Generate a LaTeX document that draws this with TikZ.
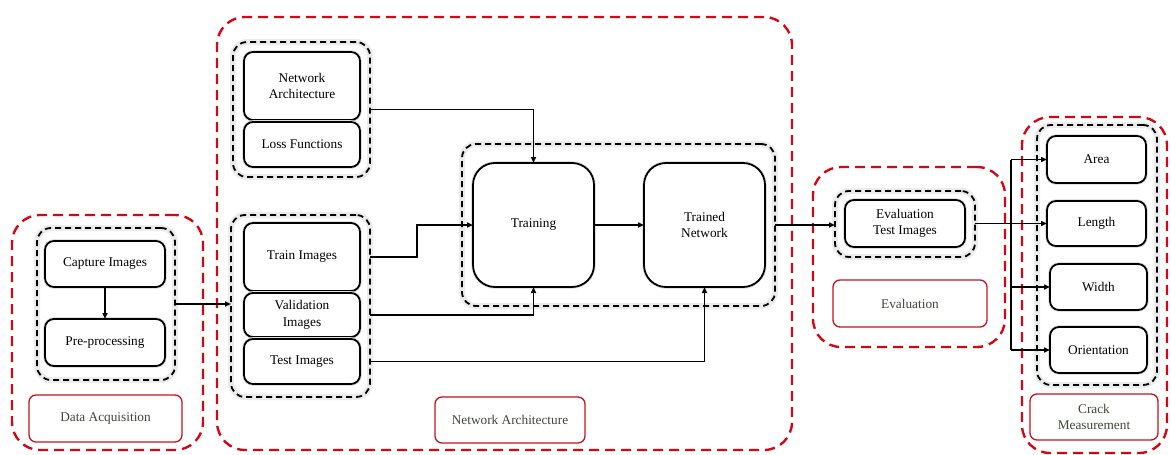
\documentclass[tikz,border=0pt]{standalone}
\usepackage{fontspec}
\setmainfont{Liberation Serif}
\usetikzlibrary{arrows.meta}
\definecolor{dashred}{RGB}{208,10,20}
\definecolor{labred}{RGB}{196,20,30}
\definecolor{labtext}{RGB}{62,72,58}
\begin{document}
\begin{tikzpicture}[x=1pt,y=-1pt,
  font=\fontsize{13.3}{16.5}\selectfont,
  stage/.style={draw=dashred,line width=2.4pt,dash pattern=on 10pt off 6pt,rounded corners=28pt},
  grp/.style={draw=black,line width=1.8pt,dash pattern=on 6pt off 4pt,rounded corners=14pt,
    preaction={draw=black!8,line width=6pt,solid}},
  blk/.style={draw=black,line width=1.8pt,rounded corners=9pt,fill=white,align=center,
    preaction={draw=black!12,line width=3.6pt}},
  lab/.style={draw=labred,line width=1.3pt,rounded corners=7pt,fill=white,text=labtext,align=center},
  arr/.style={draw=black,line width=1.5pt,-{Triangle[length=6pt,width=5pt]}},
  ln/.style={draw=black,line width=1.5pt},
  inner sep=0pt,outer sep=0pt]
\useasboundingbox (0,0) rectangle (1171,455);

% stage frames
\node[stage,minimum width=191pt,minimum height=235pt] (stDA) at (107.5,332.5) {};
\node[stage,minimum width=575pt,minimum height=433pt] (stNA) at (504.5,233.5) {};
\node[stage,minimum width=192pt,minimum height=180pt] (stEV) at (909,257) {};
\node[stage,minimum width=145pt,minimum height=336pt] (stCM) at (1094.5,285) {};

% dashed groups
\node[grp,minimum width=138pt,minimum height=152pt] (gDA) at (106,304) {};
\node[grp,minimum width=137pt,minimum height=135pt] (gNet) at (301.5,109.5) {};
\node[grp,minimum width=139pt,minimum height=182pt] (gImg) at (300.5,306) {};
\node[grp,minimum width=313pt,minimum height=162pt] (gTr) at (618.5,225) {};
\node[grp,minimum width=140pt,minimum height=66pt] (gEv) at (905,224) {};
\node[grp,minimum width=120pt,minimum height=260pt] (gCM) at (1097,255) {};

% blocks
\node[blk,minimum width=120pt,minimum height=46pt] (cap) at (105,264) {Capture Images};
\node[blk,minimum width=120pt,minimum height=47pt] (pre) at (105,342.5) {Pre-processing};

\node[blk,minimum width=116pt,minimum height=68pt] (arch) at (302,86) {Network\\Architecture};
\node[blk,minimum width=116pt,minimum height=45pt] (loss) at (302,144.5) {Loss Functions};
\node[blk,minimum width=116pt,minimum height=68pt] (trimg) at (302,257) {Train Images};
\node[blk,minimum width=116pt,minimum height=44pt] (valimg) at (302,315) {Validation\\Images};
\node[blk,minimum width=116pt,minimum height=45pt] (tstimg) at (302,361.5) {Test Images};

\node[blk,minimum width=121pt,minimum height=124pt,rounded corners=22pt] (train) at (533.5,225) {Training};
\node[blk,minimum width=121pt,minimum height=124pt,rounded corners=22pt] (trained) at (704.5,225) {Trained\\Network};

\node[blk,minimum width=120pt,minimum height=47pt] (evimg) at (905,223.5) {Evaluation\\Test Images};

\node[blk,minimum width=99pt,minimum height=47pt] (area) at (1096.5,159.5) {Area};
\node[blk,minimum width=99pt,minimum height=45pt] (len) at (1096.5,223.5) {Length};
\node[blk,minimum width=97pt,minimum height=46pt] (wid) at (1098.5,287) {Width};
\node[blk,minimum width=97pt,minimum height=46pt] (ori) at (1098.5,350) {Orientation};

% stage labels
\node[lab,minimum width=153pt,minimum height=47pt] (lDA) at (105.5,418.5) {Data Acquisition};
\node[lab,minimum width=150pt,minimum height=46pt] (lNA) at (510,420) {Network Architecture};
\node[lab,minimum width=154pt,minimum height=47pt] (lEV) at (910,303.5) {Evaluation};
\node[lab,minimum width=128pt,minimum height=46pt] (lCM) at (1094,417) {Crack\\Measurement};

% connectors
\draw[arr] (cap) -- (pre);
\draw[arr] (gDA.east) -- (gDA.east -| gImg.west);
\draw[arr] (gNet.east) -| (train.north);
\draw[arr] (trimg.east -| gImg.east) -- (417,257) |- (train.west);
\draw[arr] (valimg.east -| gImg.east) -| (train.south);
\draw[arr] (tstimg.east -| gImg.east) -| (trained.south);
\draw[arr] (train) -- (trained);
\draw[arr] (gTr.east) -- (gTr.east -| gEv.west);

\coordinate (bus) at (1011,223.5);
\draw[arr] (gEv.east |- evimg.east) -- (len.west);
\draw[ln] (bus |- area.west) -- (bus |- ori.west);
\draw[arr] (bus |- area.west) -- (area.west);
\draw[arr] (bus |- wid.west) -- (wid.west);
\draw[arr] (bus |- ori.west) -- (ori.west);
\end{tikzpicture}
\end{document}
